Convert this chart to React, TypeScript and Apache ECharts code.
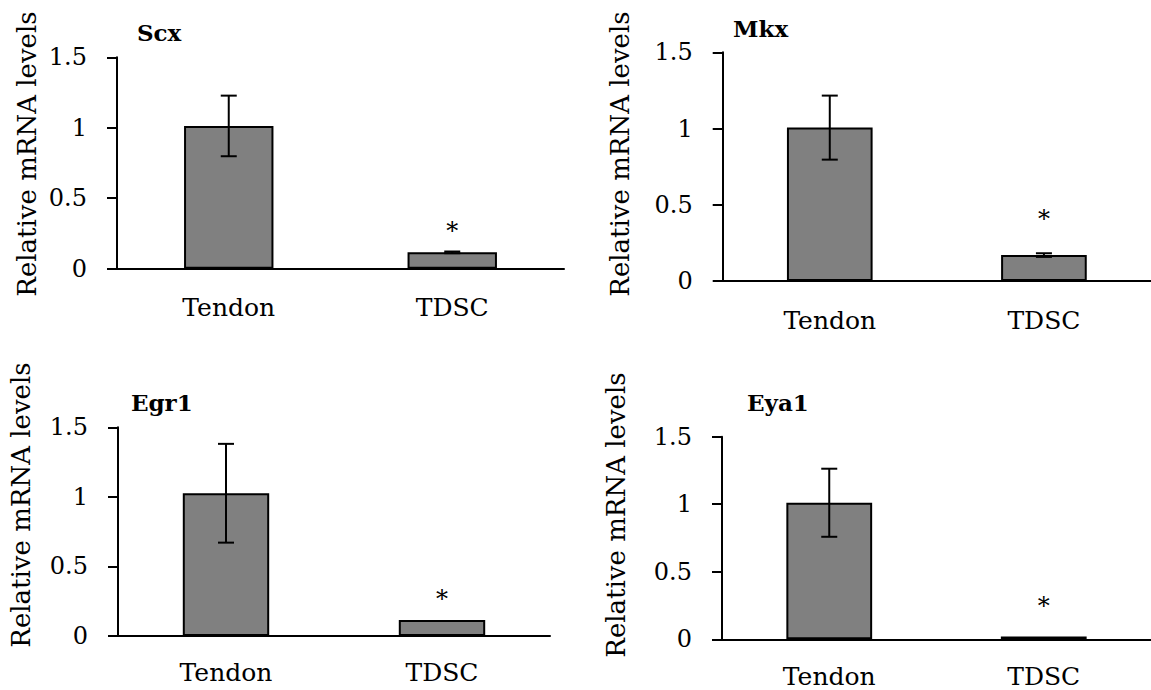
import React, { useEffect, useRef } from "react";
import * as echarts from "echarts";

const categories = ["Tendon", "TDSC"];
const genes = ["Scx", "Mkx", "Egr1", "Eya1"];
const scxMean = [1.013, 0.116];
const scxErr = [0.215, 0.006];
const mkxMean = [1.006, 0.17];
const mkxErr = [0.21, 0.012];
const egr1Mean = [1.026, 0.115];
const egr1Err = [0.355, 0];
const eya1Mean = [1.011, 0.02];
const eya1Err = [0.252, 0];
const significance = ["", "*"];
const scxStarY = [0, 0.31];
const mkxStarY = [0, 0.446];
const egr1StarY = [0, 0.307];
const eya1StarY = [0, 0.29];
const yTicks = [0, 0.5, 1, 1.5];
const yTitle = "Relative mRNA levels";

const FONT = "DejaVu Serif";

const panels = [
  { gene: genes[0], mean: scxMean, err: scxErr, star: scxStarY },
  { gene: genes[1], mean: mkxMean, err: mkxErr, star: mkxStarY },
  { gene: genes[2], mean: egr1Mean, err: egr1Err, star: egr1StarY },
  { gene: genes[3], mean: eya1Mean, err: eya1Err, star: eya1StarY },
];

const grids = [
  { left: 117, top: 57.3, width: 447, height: 211.4 },
  { left: 722.7, top: 52.3, width: 433, height: 228.7 },
  { left: 118, top: 427.3, width: 432, height: 208.7 },
  { left: 722, top: 436.7, width: 433, height: 202.6 },
];
const xLabelMargins = [26, 27, 24, 25];
const titlePos = [
  { x: 137, y: 32 },
  { x: 733, y: 28 },
  { x: 131, y: 402 },
  { x: 747, y: 402 },
];
const yTitlePos = [
  { x: 27, y: 154 },
  { x: 620, y: 154 },
  { x: 21, y: 505 },
  { x: 616, y: 515 },
];

export default function App() {
  const ref = useRef<HTMLDivElement>(null);
  useEffect(() => {
    if (!ref.current) return;
    const chart = echarts.init(ref.current, null, { renderer: "svg" });

    const series: any[] = [];
    panels.forEach((p, i) => {
      series.push({
        type: "bar",
        xAxisIndex: i,
        yAxisIndex: i,
        data: p.mean,
        barWidth: "40%",
        z: 2,
        itemStyle: { color: "#808080", borderColor: "#000", borderWidth: 2 },
        silent: true,
      });
      series.push({
        type: "custom",
        xAxisIndex: i,
        yAxisIndex: i,
        z: 5,
        data: p.mean.map((m, k) => [k, m - p.err[k], m + p.err[k]]),
        encode: { x: 0, y: [1, 2] },
        silent: true,
        renderItem: (params: any, api: any) => {
          const x = api.value(0);
          const lo = api.value(1);
          const hi = api.value(2);
          if (hi - lo <= 0) return { type: "group", children: [] };
          const pLo = api.coord([x, lo]);
          const pHi = api.coord([x, hi]);
          const half = 8;
          const st = { stroke: "#000", lineWidth: 2 };
          return {
            type: "group",
            children: [
              { type: "line", shape: { x1: pHi[0], y1: pHi[1], x2: pLo[0], y2: pLo[1] }, style: st },
              { type: "line", shape: { x1: pHi[0] - half, y1: pHi[1], x2: pHi[0] + half, y2: pHi[1] }, style: st },
              { type: "line", shape: { x1: pLo[0] - half, y1: pLo[1], x2: pLo[0] + half, y2: pLo[1] }, style: st },
            ],
          };
        },
      });
      series.push({
        type: "custom",
        xAxisIndex: i,
        yAxisIndex: i,
        z: 5,
        data: p.star.map((v, k) => [k, v, k]),
        encode: { x: 0, y: 1 },
        silent: true,
        renderItem: (params: any, api: any) => {
          const k = api.value(2);
          const txt = significance[k];
          if (!txt) return { type: "group", children: [] };
          const pt = api.coord([api.value(0), api.value(1)]);
          return {
            type: "text",
            x: pt[0],
            y: pt[1] + 6,
            style: {
              text: txt,
              fontSize: 24,
              fontFamily: FONT,
              fill: "#000",
              textAlign: "center",
              textVerticalAlign: "middle",
            },
          };
        },
      });
    });

    const graphic: any[] = [];
    panels.forEach((p, i) => {
      graphic.push({
        type: "text",
        x: titlePos[i].x,
        y: titlePos[i].y,
        style: {
          text: p.gene,
          fontSize: 23,
          fontWeight: "bold",
          fontFamily: FONT,
          fill: "#000",
          textAlign: "left",
          textVerticalAlign: "middle",
        },
      });
      graphic.push({
        type: "text",
        x: yTitlePos[i].x,
        y: yTitlePos[i].y,
        rotation: Math.PI / 2,
        style: {
          text: yTitle,
          fontSize: 26,
          fontFamily: FONT,
          fill: "#000",
          textAlign: "center",
          textVerticalAlign: "middle",
        },
      });
    });

    chart.setOption({
      animation: false,
      backgroundColor: "#fff",
      textStyle: { fontFamily: FONT },
      grid: grids.map((g) => ({ ...g, containLabel: false })),
      xAxis: grids.map((g, i) => ({
        type: "category",
        gridIndex: i,
        data: categories,
        boundaryGap: true,
        axisLine: { show: true, lineStyle: { color: "#000", width: 2 } },
        axisTick: { show: false },
        axisLabel: {
          color: "#000",
          fontSize: 25,
          fontFamily: FONT,
          margin: xLabelMargins[i],
          interval: 0,
        },
        splitLine: { show: false },
      })),
      yAxis: grids.map((g, i) => ({
        type: "value",
        gridIndex: i,
        min: yTicks[0],
        max: yTicks[yTicks.length - 1],
        interval: 0.5,
        axisLine: { show: true, lineStyle: { color: "#000", width: 2 } },
        axisTick: { show: true, length: 10, lineStyle: { color: "#000", width: 2 } },
        axisLabel: { color: "#000", fontSize: 24, fontFamily: FONT, margin: 30 },
        splitLine: { show: false },
      })),
      series,
      graphic,
    });

    return () => chart.dispose();
  }, []);

  return (
    <div
      ref={ref}
      style={{ position: "absolute", left: 0, top: 0, width: 1151, height: 690, background: "#fff" }}
    />
  );
}
